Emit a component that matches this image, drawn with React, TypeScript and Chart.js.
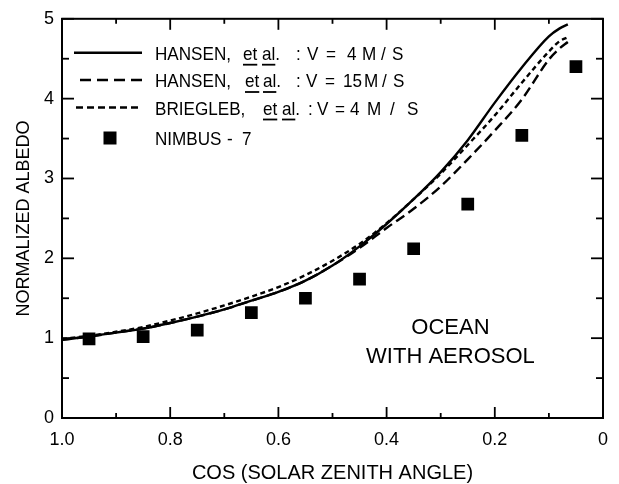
import React, { useEffect, useRef } from "react";
import { Chart, registerables } from "chart.js";

Chart.register(...registerables);

// ---- data ----
const cosGrid = [1.0, 0.95, 0.9, 0.85, 0.8, 0.75, 0.7, 0.65, 0.6, 0.55, 0.5, 0.45, 0.4, 0.35, 0.3, 0.25, 0.2, 0.15, 0.1, 0.08, 0.065];
const hansen4 = [0.98, 1.02, 1.07, 1.12, 1.19, 1.27, 1.36, 1.47, 1.58, 1.72, 1.91, 2.15, 2.43, 2.74, 3.08, 3.48, 3.95, 4.39, 4.78, 4.88, 4.93];
const hansen15 = [0.98, 1.02, 1.07, 1.12, 1.19, 1.27, 1.36, 1.47, 1.58, 1.72, 1.91, 2.13, 2.38, 2.62, 2.9, 3.24, 3.6, 3.99, 4.49, 4.63, 4.71];
const briegleb4 = [0.99, 1.03, 1.08, 1.14, 1.22, 1.31, 1.41, 1.52, 1.64, 1.79, 1.97, 2.18, 2.44, 2.74, 3.06, 3.42, 3.79, 4.2, 4.59, 4.72, 4.77];
const nimbusCos = [0.95, 0.85, 0.75, 0.65, 0.55, 0.45, 0.35, 0.25, 0.15, 0.05];
const nimbus7 = [0.99, 1.02, 1.1, 1.32, 1.5, 1.74, 2.12, 2.68, 3.54, 4.4];

const xMajorTicks = [1.0, 0.8, 0.6, 0.4, 0.2, 0];
const xMinorTicks = [0.9, 0.7, 0.5, 0.3, 0.1];
const yMajorTicks = [0, 1, 2, 3, 4, 5];
const yMinorTicks = [0.5, 1.5, 2.5, 3.5, 4.5];

const xTitle = "COS (SOLAR ZENITH ANGLE)";
const yTitle = "NORMALIZED ALBEDO";
const noteLines = ["OCEAN", "WITH AEROSOL"];

type Tok = { t: string; x: number; u?: boolean };
const legendRows: { sample: string; tokens: Tok[] }[] = [
  {
    sample: "solid",
    tokens: [
      { t: "HANSEN,", x: 155 }, { t: "et", x: 243, u: true }, { t: "al.", x: 262, u: true },
      { t: ":", x: 296 }, { t: "V", x: 307 }, { t: "=", x: 326 }, { t: "4", x: 347 },
      { t: "M", x: 362 }, { t: "/", x: 381 }, { t: "S", x: 392 },
    ],
  },
  {
    sample: "long",
    tokens: [
      { t: "HANSEN,", x: 155 }, { t: "et", x: 245, u: true }, { t: "al.", x: 263, u: true },
      { t: ":", x: 296 }, { t: "V", x: 306 }, { t: "=", x: 325 }, { t: "15", x: 343 },
      { t: "M", x: 364 }, { t: "/", x: 382 }, { t: "S", x: 393 },
    ],
  },
  {
    sample: "short",
    tokens: [
      { t: "BRIEGLEB,", x: 155 }, { t: "et", x: 263, u: true }, { t: "al.", x: 282, u: true },
      { t: ":", x: 308 }, { t: "V", x: 317 }, { t: "=", x: 335 }, { t: "4", x: 350 },
      { t: "M", x: 367 }, { t: "/", x: 390 }, { t: "S", x: 407 },
    ],
  },
  {
    sample: "square",
    tokens: [{ t: "NIMBUS", x: 155 }, { t: "-", x: 227 }, { t: "7", x: 242 }],
  },
];

const FONT = '"Liberation Sans", Arial, sans-serif';

const framePlugin = {
  id: "frame",
  afterDraw(chart: any) {
    const { ctx, chartArea, scales } = chart;
    const { left, right, top, bottom } = chartArea;
    const x = scales.x;
    const y = scales.y;
    ctx.save();
    ctx.strokeStyle = "#000";
    ctx.lineWidth = 2;
    ctx.strokeRect(left, top, right - left, bottom - top);
    ctx.lineWidth = 1.8;
    const seg = (x1: number, y1: number, x2: number, y2: number) => {
      ctx.beginPath();
      ctx.moveTo(x1, y1);
      ctx.lineTo(x2, y2);
      ctx.stroke();
    };
    xMajorTicks.forEach((v) => {
      const p = x.getPixelForValue(v);
      seg(p, bottom, p, bottom - 11);
      seg(p, top, p, top + 11);
    });
    xMinorTicks.forEach((v) => {
      const p = x.getPixelForValue(v);
      seg(p, bottom, p, bottom - 5);
      seg(p, top, p, top + 5);
    });
    yMajorTicks.forEach((v) => {
      const p = y.getPixelForValue(v);
      seg(left, p, left + 12, p);
      seg(right, p, right - 12, p);
    });
    yMinorTicks.forEach((v) => {
      const p = y.getPixelForValue(v);
      seg(left, p, left + 7, p);
      seg(right, p, right - 7, p);
    });

    // annotation
    ctx.fillStyle = "#000";
    ctx.font = `22px ${FONT}`;
    ctx.textAlign = "center";
    ctx.textBaseline = "middle";
    const nx = x.getPixelForValue(0.282);
    ctx.fillText(noteLines[0], nx, y.getPixelForValue(1.13));
    ctx.fillText(noteLines[1], nx, y.getPixelForValue(0.76));
    ctx.restore();
  },
};

const legendPlugin = {
  id: "customLegend",
  afterDraw(chart: any) {
    const ctx = chart.ctx as CanvasRenderingContext2D;
    const rowY = [52.7, 80, 107.5, 138];
    const sx = 0.9;
    ctx.save();
    ctx.strokeStyle = "#000";
    ctx.fillStyle = "#000";
    legendRows.forEach((row, i) => {
      const cy = rowY[i];
      ctx.lineWidth = 2.4;
      if (row.sample === "solid") {
        ctx.setLineDash([]);
        ctx.beginPath(); ctx.moveTo(74, cy); ctx.lineTo(142, cy); ctx.stroke();
      } else if (row.sample === "long") {
        ctx.setLineDash([11, 6]);
        ctx.beginPath(); ctx.moveTo(80, cy); ctx.lineTo(142, cy); ctx.stroke();
      } else if (row.sample === "short") {
        ctx.setLineDash([7, 4]);
        ctx.beginPath(); ctx.moveTo(76, cy); ctx.lineTo(142, cy); ctx.stroke();
      } else {
        ctx.fillRect(110 - 6.5, cy - 6.5, 13, 13);
      }
      ctx.setLineDash([]);
      ctx.font = `19px ${FONT}`;
      ctx.textAlign = "left";
      ctx.textBaseline = "alphabetic";
      const base = cy + 7;
      row.tokens.forEach((tk) => {
        ctx.save();
        ctx.translate(tk.x, base);
        ctx.scale(sx, 1);
        ctx.fillText(tk.t, 0, 0);
        ctx.restore();
        if (tk.u) {
          const w = ctx.measureText(tk.t.replace(".", "")).width * sx;
          ctx.lineWidth = 1.8;
          ctx.beginPath();
          ctx.moveTo(tk.x, base + 5);
          ctx.lineTo(tk.x + w, base + 5);
          ctx.stroke();
        }
      });
    });
    ctx.restore();
  },
};

export default function App() {
  const ref = useRef<HTMLCanvasElement>(null);
  useEffect(() => {
    document.body.style.margin = "0";
    const canvas = ref.current!;
    const mk = (vals: number[]) => cosGrid.map((c, i) => ({ x: c, y: vals[i] }));
    const lineDs = (label: string, vals: number[], dash: number[]) => ({
      type: "line" as const,
      label,
      data: mk(vals),
      borderColor: "#000",
      borderWidth: 2.4,
      borderDash: dash,
      pointRadius: 0,
      cubicInterpolationMode: "monotone" as const,
      fill: false,
    });
    const chart = new Chart(canvas, {
      type: "line",
      data: {
        datasets: [
          lineDs("HANSEN, et al. : V = 4 M/S", hansen4, []),
          lineDs("HANSEN, et al. : V = 15 M/S", hansen15, [10, 5]),
          lineDs("BRIEGLEB, et al. : V = 4 M/S", briegleb4, [5, 3.5]),
          {
            type: "scatter" as any,
            label: "NIMBUS-7",
            data: nimbusCos.map((c, i) => ({ x: c, y: nimbus7[i] })),
            pointStyle: "rect",
            pointRadius: 9,
            backgroundColor: "#000",
            borderColor: "#000",
            borderWidth: 0,
            showLine: false,
          } as any,
        ],
      },
      options: {
        animation: false,
        responsive: false,
        devicePixelRatio: 1,
        layout: { padding: { top: 14, right: 12, left: 0, bottom: 0 } },
        plugins: { legend: { display: false }, tooltip: { enabled: false } },
        scales: {
          x: {
            type: "linear",
            reverse: true,
            min: 0,
            max: 1,
            afterBuildTicks: (s: any) => {
              s.ticks = xMajorTicks.map((v) => ({ value: v }));
            },
            ticks: {
              callback: (v: any) => (Number(v) === 0 ? "0" : Number(v).toFixed(1)),
              font: { family: FONT, size: 18 },
              color: "#000",
              padding: 11,
              maxRotation: 0,
              autoSkip: false,
            },
            grid: { display: false, drawTicks: false },
            border: { display: false },
            title: {
              display: true,
              text: xTitle,
              color: "#000",
              font: { family: FONT, size: 20, lineHeight: 1 },
              padding: { top: 0, bottom: 1 },
            },
            afterFit: (s: any) => {
              s.height = 66;
            },
          },
          y: {
            type: "linear",
            min: 0,
            max: 5,
            afterBuildTicks: (s: any) => {
              s.ticks = yMajorTicks.map((v) => ({ value: v }));
            },
            ticks: {
              font: { family: FONT, size: 18 },
              color: "#000",
              padding: 8,
            },
            grid: { display: false, drawTicks: false },
            border: { display: false },
            title: {
              display: true,
              text: yTitle,
              color: "#000",
              font: { family: FONT, size: 18, lineHeight: 1 },
              padding: { top: 15, bottom: 0 },
            },
            afterFit: (s: any) => {
              s.width = 62;
            },
          },
        },
      } as any,
      plugins: [framePlugin, legendPlugin],
    });
    return () => chart.destroy();
  }, []);
  return (
    <div style={{ width: 619, height: 484, background: "#fff" }}>
      <canvas ref={ref} width={619} height={484} style={{ display: "block" }} />
    </div>
  );
}
